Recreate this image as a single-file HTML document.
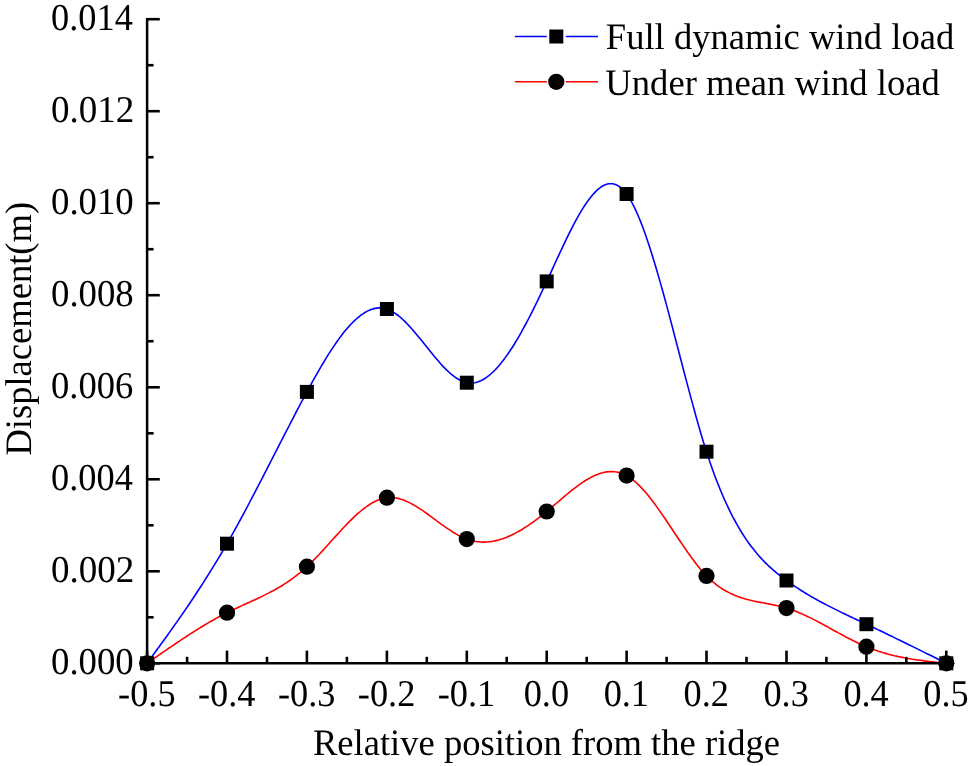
<!DOCTYPE html>
<html><head><meta charset="utf-8"><title>Displacement chart</title>
<style>
html,body{margin:0;padding:0;background:#fff;}
svg{display:block;}
text{font-family:"Liberation Serif",serif;fill:#000;text-rendering:geometricPrecision;}
</style></head><body>
<svg width="969" height="766" viewBox="0 0 969 766">
<rect width="969" height="766" fill="#fff"/>

<polyline points="147.1,663.3 149.1,660.6 151.1,657.8 153.1,655.1 155.1,652.3 157.1,649.6 159.1,646.8 161.1,644.0 163.1,641.3 165.1,638.5 167.1,635.7 169.1,632.9 171.1,630.1 173.1,627.3 175.1,624.4 177.1,621.6 179.1,618.7 181.1,615.9 183.1,613.0 185.1,610.1 187.1,607.2 189.1,604.2 191.1,601.3 193.1,598.3 195.1,595.3 197.0,592.3 199.0,589.2 201.0,586.2 203.0,583.1 205.0,579.9 207.0,576.8 209.0,573.6 211.0,570.4 213.0,567.2 215.0,563.9 217.0,560.6 219.0,557.3 221.0,554.0 223.0,550.6 225.0,547.1 227.0,543.7 229.0,540.2 231.0,536.6 233.0,533.1 235.0,529.5 237.0,525.9 239.0,522.2 241.0,518.5 243.0,514.8 245.0,511.1 247.0,507.3 249.0,503.5 251.0,499.7 253.0,495.9 255.0,492.1 257.0,488.2 259.0,484.4 261.0,480.5 263.0,476.6 265.0,472.7 267.0,468.8 269.0,464.9 271.0,461.0 273.0,457.1 275.0,453.2 277.0,449.3 279.0,445.4 281.0,441.5 283.0,437.6 285.0,433.7 287.0,429.8 289.0,426.0 291.0,422.1 293.0,418.3 295.0,414.4 296.9,410.6 298.9,406.8 300.9,403.0 302.9,399.3 304.9,395.6 306.9,391.9 308.9,388.2 310.9,384.5 312.9,380.9 314.9,377.3 316.9,373.8 318.9,370.3 320.9,366.9 322.9,363.5 324.9,360.2 326.9,356.9 328.9,353.7 330.9,350.6 332.9,347.6 334.9,344.6 336.9,341.7 338.9,338.9 340.9,336.2 342.9,333.6 344.9,331.1 346.9,328.7 348.9,326.4 350.9,324.3 352.9,322.2 354.9,320.3 356.9,318.5 358.9,316.8 360.9,315.2 362.9,313.8 364.9,312.5 366.9,311.4 368.9,310.4 370.9,309.6 372.9,308.9 374.9,308.4 376.9,308.1 378.9,307.9 380.9,307.9 382.9,308.1 384.9,308.5 386.9,309.0 388.9,309.8 390.9,310.7 392.9,311.8 394.9,313.1 396.8,314.5 398.8,316.0 400.8,317.7 402.8,319.5 404.8,321.4 406.8,323.5 408.8,325.6 410.8,327.8 412.8,330.0 414.8,332.4 416.8,334.7 418.8,337.2 420.8,339.6 422.8,342.1 424.8,344.6 426.8,347.1 428.8,349.6 430.8,352.1 432.8,354.5 434.8,356.9 436.8,359.3 438.8,361.6 440.8,363.9 442.8,366.1 444.8,368.1 446.8,370.1 448.8,372.0 450.8,373.8 452.8,375.4 454.8,377.0 456.8,378.3 458.8,379.5 460.8,380.6 462.8,381.5 464.8,382.2 466.8,382.7 468.8,383.0 470.8,383.1 472.8,383.0 474.8,382.7 476.8,382.2 478.8,381.5 480.8,380.7 482.8,379.7 484.8,378.5 486.8,377.2 488.8,375.7 490.8,374.0 492.8,372.2 494.8,370.2 496.8,368.1 498.7,365.9 500.7,363.5 502.7,361.0 504.7,358.4 506.7,355.6 508.7,352.8 510.7,349.8 512.7,346.7 514.7,343.5 516.7,340.2 518.7,336.8 520.7,333.3 522.7,329.7 524.7,326.0 526.7,322.3 528.7,318.5 530.7,314.6 532.7,310.6 534.7,306.6 536.7,302.5 538.7,298.4 540.7,294.2 542.7,290.0 544.7,285.7 546.7,281.4 548.7,277.1 550.7,272.8 552.7,268.4 554.7,264.0 556.7,259.7 558.7,255.3 560.7,251.0 562.7,246.8 564.7,242.6 566.7,238.4 568.7,234.3 570.7,230.3 572.7,226.4 574.7,222.6 576.7,218.9 578.7,215.4 580.7,211.9 582.7,208.6 584.7,205.5 586.7,202.6 588.7,199.8 590.7,197.2 592.7,194.8 594.7,192.6 596.6,190.6 598.6,188.8 600.6,187.3 602.6,186.0 604.6,185.0 606.6,184.3 608.6,183.8 610.6,183.7 612.6,183.8 614.6,184.2 616.6,185.0 618.6,186.1 620.6,187.5 622.6,189.3 624.6,191.5 626.6,194.0 628.6,196.9 630.6,200.2 632.6,203.8 634.6,207.8 636.6,212.1 638.6,216.7 640.6,221.6 642.6,226.8 644.6,232.3 646.6,237.9 648.6,243.9 650.6,250.0 652.6,256.4 654.6,262.9 656.6,269.7 658.6,276.6 660.6,283.6 662.6,290.8 664.6,298.0 666.6,305.4 668.6,312.9 670.6,320.4 672.6,328.0 674.6,335.7 676.6,343.4 678.6,351.0 680.6,358.7 682.6,366.4 684.6,374.0 686.6,381.6 688.6,389.1 690.6,396.6 692.6,403.9 694.6,411.2 696.5,418.3 698.5,425.3 700.5,432.2 702.5,438.9 704.5,445.4 706.5,451.7 708.5,457.8 710.5,463.7 712.5,469.4 714.5,474.9 716.5,480.2 718.5,485.3 720.5,490.2 722.5,495.0 724.5,499.6 726.5,504.0 728.5,508.2 730.5,512.3 732.5,516.3 734.5,520.0 736.5,523.7 738.5,527.2 740.5,530.5 742.5,533.8 744.5,536.9 746.5,539.9 748.5,542.7 750.5,545.5 752.5,548.1 754.5,550.6 756.5,553.1 758.5,555.4 760.5,557.6 762.5,559.8 764.5,561.9 766.5,563.8 768.5,565.8 770.5,567.6 772.5,569.4 774.5,571.1 776.5,572.8 778.5,574.4 780.5,576.0 782.5,577.5 784.5,579.0 786.5,580.5 788.5,581.9 790.5,583.3 792.5,584.7 794.5,586.1 796.4,587.4 798.4,588.7 800.4,590.0 802.4,591.2 804.4,592.5 806.4,593.7 808.4,594.9 810.4,596.1 812.4,597.2 814.4,598.4 816.4,599.5 818.4,600.6 820.4,601.7 822.4,602.8 824.4,603.8 826.4,604.9 828.4,605.9 830.4,606.9 832.4,607.9 834.4,608.9 836.4,609.9 838.4,610.9 840.4,611.9 842.4,612.9 844.4,613.8 846.4,614.8 848.4,615.7 850.4,616.7 852.4,617.6 854.4,618.6 856.4,619.5 858.4,620.4 860.4,621.4 862.4,622.3 864.4,623.3 866.4,624.2 868.4,625.1 870.4,626.1 872.4,627.0 874.4,628.0 876.4,628.9 878.4,629.9 880.4,630.8 882.4,631.8 884.4,632.8 886.4,633.7 888.4,634.7 890.4,635.7 892.4,636.6 894.4,637.6 896.3,638.6 898.3,639.6 900.3,640.5 902.3,641.5 904.3,642.5 906.3,643.5 908.3,644.5 910.3,645.4 912.3,646.4 914.3,647.4 916.3,648.4 918.3,649.4 920.3,650.4 922.3,651.4 924.3,652.4 926.3,653.4 928.3,654.3 930.3,655.3 932.3,656.3 934.3,657.3 936.3,658.3 938.3,659.3 940.3,660.3 942.3,661.3 944.3,662.3 946.3,663.3" fill="none" stroke="#0000ff" stroke-width="1.6" stroke-linejoin="round"/>
<polyline points="147.1,663.3 149.1,661.9 151.1,660.5 153.1,659.1 155.1,657.7 157.1,656.3 159.1,654.9 161.1,653.5 163.1,652.2 165.1,650.8 167.1,649.4 169.1,648.0 171.1,646.7 173.1,645.3 175.1,644.0 177.1,642.6 179.1,641.3 181.1,639.9 183.1,638.6 185.1,637.3 187.1,636.0 189.1,634.7 191.1,633.4 193.1,632.2 195.1,630.9 197.0,629.7 199.0,628.4 201.0,627.2 203.0,626.0 205.0,624.8 207.0,623.6 209.0,622.4 211.0,621.3 213.0,620.2 215.0,619.0 217.0,617.9 219.0,616.8 221.0,615.8 223.0,614.7 225.0,613.7 227.0,612.7 229.0,611.7 231.0,610.7 233.0,609.8 235.0,608.8 237.0,607.9 239.0,607.0 241.0,606.1 243.0,605.1 245.0,604.2 247.0,603.3 249.0,602.4 251.0,601.5 253.0,600.6 255.0,599.7 257.0,598.8 259.0,597.8 261.0,596.9 263.0,595.9 265.0,594.9 267.0,593.9 269.0,592.9 271.0,591.8 273.0,590.8 275.0,589.7 277.0,588.5 279.0,587.4 281.0,586.2 283.0,585.0 285.0,583.7 287.0,582.4 289.0,581.0 291.0,579.6 293.0,578.2 295.0,576.7 296.9,575.2 298.9,573.6 300.9,572.0 302.9,570.3 304.9,568.5 306.9,566.7 308.9,564.8 310.9,562.9 312.9,560.9 314.9,558.9 316.9,556.8 318.9,554.7 320.9,552.5 322.9,550.4 324.9,548.2 326.9,546.0 328.9,543.7 330.9,541.5 332.9,539.3 334.9,537.1 336.9,534.9 338.9,532.7 340.9,530.5 342.9,528.3 344.9,526.2 346.9,524.1 348.9,522.1 350.9,520.1 352.9,518.1 354.9,516.2 356.9,514.4 358.9,512.6 360.9,511.0 362.9,509.3 364.9,507.8 366.9,506.3 368.9,505.0 370.9,503.7 372.9,502.5 374.9,501.5 376.9,500.5 378.9,499.7 380.9,499.0 382.9,498.4 384.9,498.0 386.9,497.7 388.9,497.5 390.9,497.5 392.9,497.6 394.9,497.8 396.8,498.1 398.8,498.6 400.8,499.2 402.8,499.8 404.8,500.6 406.8,501.4 408.8,502.4 410.8,503.4 412.8,504.5 414.8,505.6 416.8,506.8 418.8,508.1 420.8,509.4 422.8,510.7 424.8,512.1 426.8,513.5 428.8,515.0 430.8,516.4 432.8,517.9 434.8,519.4 436.8,520.9 438.8,522.3 440.8,523.8 442.8,525.2 444.8,526.7 446.8,528.1 448.8,529.4 450.8,530.7 452.8,532.0 454.8,533.2 456.8,534.4 458.8,535.5 460.8,536.5 462.8,537.4 464.8,538.3 466.8,539.1 468.8,539.8 470.8,540.4 472.8,540.9 474.8,541.3 476.8,541.6 478.8,541.8 480.8,542.0 482.8,542.1 484.8,542.1 486.8,542.0 488.8,541.8 490.8,541.6 492.8,541.3 494.8,540.9 496.8,540.4 498.7,539.9 500.7,539.3 502.7,538.7 504.7,538.0 506.7,537.2 508.7,536.3 510.7,535.5 512.7,534.5 514.7,533.5 516.7,532.4 518.7,531.3 520.7,530.2 522.7,529.0 524.7,527.7 526.7,526.4 528.7,525.1 530.7,523.7 532.7,522.3 534.7,520.9 536.7,519.4 538.7,517.9 540.7,516.3 542.7,514.7 544.7,513.1 546.7,511.5 548.7,509.8 550.7,508.1 552.7,506.4 554.7,504.7 556.7,503.0 558.7,501.3 560.7,499.6 562.7,497.9 564.7,496.2 566.7,494.5 568.7,492.9 570.7,491.2 572.7,489.6 574.7,488.1 576.7,486.6 578.7,485.1 580.7,483.7 582.7,482.3 584.7,481.0 586.7,479.8 588.7,478.6 590.7,477.5 592.7,476.5 594.7,475.5 596.6,474.7 598.6,473.9 600.6,473.2 602.6,472.7 604.6,472.2 606.6,471.9 608.6,471.7 610.6,471.5 612.6,471.6 614.6,471.7 616.6,472.0 618.6,472.4 620.6,473.0 622.6,473.7 624.6,474.6 626.6,475.6 628.6,476.8 630.6,478.1 632.6,479.6 634.6,481.2 636.6,483.0 638.6,484.9 640.6,486.9 642.6,489.1 644.6,491.3 646.6,493.6 648.6,496.1 650.6,498.6 652.6,501.2 654.6,503.8 656.6,506.6 658.6,509.4 660.6,512.2 662.6,515.1 664.6,518.0 666.6,521.0 668.6,524.0 670.6,527.0 672.6,530.0 674.6,533.0 676.6,536.0 678.6,539.0 680.6,542.0 682.6,544.9 684.6,547.8 686.6,550.7 688.6,553.6 690.6,556.3 692.6,559.1 694.6,561.7 696.5,564.3 698.5,566.8 700.5,569.2 702.5,571.6 704.5,573.8 706.5,575.9 708.5,577.9 710.5,579.8 712.5,581.6 714.5,583.2 716.5,584.8 718.5,586.3 720.5,587.7 722.5,589.0 724.5,590.2 726.5,591.3 728.5,592.4 730.5,593.4 732.5,594.3 734.5,595.2 736.5,596.0 738.5,596.7 740.5,597.4 742.5,598.1 744.5,598.7 746.5,599.2 748.5,599.8 750.5,600.3 752.5,600.7 754.5,601.2 756.5,601.6 758.5,602.0 760.5,602.4 762.5,602.8 764.5,603.1 766.5,603.5 768.5,603.9 770.5,604.3 772.5,604.7 774.5,605.1 776.5,605.5 778.5,606.0 780.5,606.4 782.5,607.0 784.5,607.5 786.5,608.1 788.5,608.7 790.5,609.4 792.5,610.1 794.5,610.8 796.4,611.6 798.4,612.4 800.4,613.3 802.4,614.1 804.4,615.1 806.4,616.0 808.4,616.9 810.4,617.9 812.4,618.9 814.4,619.9 816.4,620.9 818.4,622.0 820.4,623.0 822.4,624.1 824.4,625.2 826.4,626.3 828.4,627.4 830.4,628.5 832.4,629.6 834.4,630.7 836.4,631.8 838.4,632.9 840.4,633.9 842.4,635.0 844.4,636.1 846.4,637.2 848.4,638.2 850.4,639.2 852.4,640.2 854.4,641.2 856.4,642.2 858.4,643.2 860.4,644.1 862.4,645.0 864.4,645.9 866.4,646.7 868.4,647.6 870.4,648.3 872.4,649.1 874.4,649.8 876.4,650.5 878.4,651.2 880.4,651.8 882.4,652.5 884.4,653.1 886.4,653.6 888.4,654.2 890.4,654.7 892.4,655.2 894.4,655.7 896.3,656.1 898.3,656.6 900.3,657.0 902.3,657.4 904.3,657.8 906.3,658.2 908.3,658.5 910.3,658.8 912.3,659.2 914.3,659.5 916.3,659.8 918.3,660.1 920.3,660.3 922.3,660.6 924.3,660.9 926.3,661.1 928.3,661.4 930.3,661.6 932.3,661.8 934.3,662.0 936.3,662.3 938.3,662.5 940.3,662.7 942.3,662.9 944.3,663.1 946.3,663.3" fill="none" stroke="#ff0000" stroke-width="1.6" stroke-linejoin="round"/>
<g stroke="#000" stroke-width="2.5" fill="none" stroke-linecap="butt">
<line x1="147.1" y1="17.9" x2="147.1" y2="664.5"/>
<line x1="145.8" y1="663.3" x2="947.6" y2="663.3"/>
</g>
<g stroke="#000" stroke-width="2.6" fill="none">
<line x1="147.1" y1="663.3" x2="147.1" y2="650.6"/>
<line x1="187.1" y1="663.3" x2="187.1" y2="656.8"/>
<line x1="227.0" y1="663.3" x2="227.0" y2="650.6"/>
<line x1="267.0" y1="663.3" x2="267.0" y2="656.8"/>
<line x1="306.9" y1="663.3" x2="306.9" y2="650.6"/>
<line x1="346.9" y1="663.3" x2="346.9" y2="656.8"/>
<line x1="386.9" y1="663.3" x2="386.9" y2="650.6"/>
<line x1="426.8" y1="663.3" x2="426.8" y2="656.8"/>
<line x1="466.8" y1="663.3" x2="466.8" y2="650.6"/>
<line x1="506.7" y1="663.3" x2="506.7" y2="656.8"/>
<line x1="546.7" y1="663.3" x2="546.7" y2="650.6"/>
<line x1="586.7" y1="663.3" x2="586.7" y2="656.8"/>
<line x1="626.6" y1="663.3" x2="626.6" y2="650.6"/>
<line x1="666.6" y1="663.3" x2="666.6" y2="656.8"/>
<line x1="706.5" y1="663.3" x2="706.5" y2="650.6"/>
<line x1="746.5" y1="663.3" x2="746.5" y2="656.8"/>
<line x1="786.5" y1="663.3" x2="786.5" y2="650.6"/>
<line x1="826.4" y1="663.3" x2="826.4" y2="656.8"/>
<line x1="866.4" y1="663.3" x2="866.4" y2="650.6"/>
<line x1="906.3" y1="663.3" x2="906.3" y2="656.8"/>
<line x1="946.3" y1="663.3" x2="946.3" y2="650.6"/>
<line x1="147.1" y1="663.3" x2="159.8" y2="663.3"/>
<line x1="147.1" y1="617.3" x2="153.6" y2="617.3"/>
<line x1="147.1" y1="571.3" x2="159.8" y2="571.3"/>
<line x1="147.1" y1="525.3" x2="153.6" y2="525.3"/>
<line x1="147.1" y1="479.3" x2="159.8" y2="479.3"/>
<line x1="147.1" y1="433.3" x2="153.6" y2="433.3"/>
<line x1="147.1" y1="387.3" x2="159.8" y2="387.3"/>
<line x1="147.1" y1="341.2" x2="153.6" y2="341.2"/>
<line x1="147.1" y1="295.2" x2="159.8" y2="295.2"/>
<line x1="147.1" y1="249.2" x2="153.6" y2="249.2"/>
<line x1="147.1" y1="203.2" x2="159.8" y2="203.2"/>
<line x1="147.1" y1="157.2" x2="153.6" y2="157.2"/>
<line x1="147.1" y1="111.2" x2="159.8" y2="111.2"/>
<line x1="147.1" y1="65.2" x2="153.6" y2="65.2"/>
<line x1="147.1" y1="19.2" x2="159.8" y2="19.2"/>
</g>
<text transform="translate(146.80,706) scale(0.958,1)" font-size="37.9" text-anchor="middle">-0.5</text>
<text transform="translate(226.72,706) scale(0.958,1)" font-size="37.9" text-anchor="middle">-0.4</text>
<text transform="translate(306.64,706) scale(0.958,1)" font-size="37.9" text-anchor="middle">-0.3</text>
<text transform="translate(386.56,706) scale(0.958,1)" font-size="37.9" text-anchor="middle">-0.2</text>
<text transform="translate(466.48,706) scale(0.958,1)" font-size="37.9" text-anchor="middle">-0.1</text>
<text transform="translate(546.40,706) scale(0.958,1)" font-size="37.9" text-anchor="middle">0.0</text>
<text transform="translate(626.32,706) scale(0.958,1)" font-size="37.9" text-anchor="middle">0.1</text>
<text transform="translate(706.24,706) scale(0.958,1)" font-size="37.9" text-anchor="middle">0.2</text>
<text transform="translate(786.16,706) scale(0.958,1)" font-size="37.9" text-anchor="middle">0.3</text>
<text transform="translate(866.08,706) scale(0.958,1)" font-size="37.9" text-anchor="middle">0.4</text>
<text transform="translate(946.00,706) scale(0.958,1)" font-size="37.9" text-anchor="middle">0.5</text>
<text transform="translate(51.03,674.00) scale(0.9703,1)" font-size="37.9">0.000</text>
<text transform="translate(51.02,582.00) scale(0.9770,1)" font-size="37.9">0.002</text>
<text transform="translate(51.05,490.00) scale(0.9592,1)" font-size="37.9">0.004</text>
<text transform="translate(51.04,398.00) scale(0.9658,1)" font-size="37.9">0.006</text>
<text transform="translate(51.03,306.00) scale(0.9703,1)" font-size="37.9">0.008</text>
<text transform="translate(51.03,214.00) scale(0.9703,1)" font-size="37.9">0.010</text>
<text transform="translate(51.02,122.00) scale(0.9770,1)" font-size="37.9">0.012</text>
<text transform="translate(51.05,30.00) scale(0.9592,1)" font-size="37.9">0.014</text>
<text transform="translate(312.90,755.00) scale(0.9804,1)" font-size="37.3">Relative position from the ridge</text>
<text transform="translate(30.6,455.60) rotate(-90) scale(0.9799,1)" font-size="37.3">Displacement(m)</text>
<rect x="140.1" y="656.3" width="14.0" height="14.0" fill="#000"/>
<rect x="220.0" y="536.7" width="14.0" height="14.0" fill="#000"/>
<rect x="299.9" y="384.9" width="14.0" height="14.0" fill="#000"/>
<rect x="379.9" y="302.0" width="14.0" height="14.0" fill="#000"/>
<rect x="459.8" y="375.7" width="14.0" height="14.0" fill="#000"/>
<rect x="539.7" y="274.4" width="14.0" height="14.0" fill="#000"/>
<rect x="619.6" y="187.0" width="14.0" height="14.0" fill="#000"/>
<rect x="699.5" y="444.7" width="14.0" height="14.0" fill="#000"/>
<rect x="779.5" y="573.5" width="14.0" height="14.0" fill="#000"/>
<rect x="859.4" y="617.2" width="14.0" height="14.0" fill="#000"/>
<rect x="939.3" y="656.3" width="14.0" height="14.0" fill="#000"/>
<circle cx="147.1" cy="663.3" r="8.1" fill="#000"/>
<circle cx="227.0" cy="612.7" r="8.1" fill="#000"/>
<circle cx="306.9" cy="566.7" r="8.1" fill="#000"/>
<circle cx="386.9" cy="497.7" r="8.1" fill="#000"/>
<circle cx="466.8" cy="539.1" r="8.1" fill="#000"/>
<circle cx="546.7" cy="511.5" r="8.1" fill="#000"/>
<circle cx="626.6" cy="475.6" r="8.1" fill="#000"/>
<circle cx="706.5" cy="575.9" r="8.1" fill="#000"/>
<circle cx="786.5" cy="608.1" r="8.1" fill="#000"/>
<circle cx="866.4" cy="646.7" r="8.1" fill="#000"/>
<circle cx="946.3" cy="663.3" r="8.1" fill="#000"/>
<line x1="514.9" y1="36.5" x2="546.8" y2="36.5" stroke="#0000ff" stroke-width="1.6"/>
<line x1="565.8" y1="36.5" x2="598.0" y2="36.5" stroke="#0000ff" stroke-width="1.6"/>
<line x1="514.9" y1="81.8" x2="546.8" y2="81.8" stroke="#ff0000" stroke-width="1.6"/>
<line x1="565.8" y1="81.8" x2="598.0" y2="81.8" stroke="#ff0000" stroke-width="1.6"/>
<rect x="549.3" y="29.5" width="14.0" height="14.0" fill="#000"/>
<circle cx="556.3" cy="81.8" r="8.1" fill="#000"/>
<text transform="translate(605.80,49.00) scale(0.9805,1)" font-size="37.3">Full dynamic wind load</text>
<text transform="translate(605.37,95.00) scale(0.9814,1)" font-size="37.3">Under mean wind load</text>
</svg></body></html>
